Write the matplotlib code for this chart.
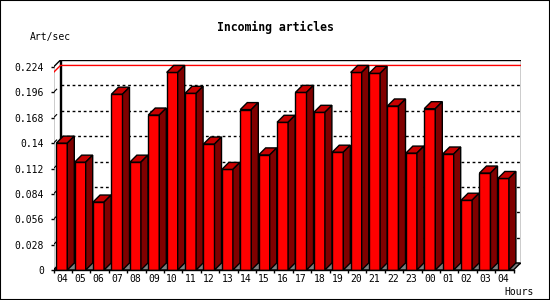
import matplotlib
matplotlib.use("Agg")
import matplotlib.pyplot as plt
from matplotlib.patches import Polygon, Rectangle

hours = ["04", "05", "06", "07", "08", "09", "10", "11", "12", "13", "14", "15", "16",
         "17", "18", "19", "20", "21", "22", "23", "00", "01", "02", "03", "04"]
rate = [0.140, 0.119, 0.075, 0.194, 0.119, 0.171, 0.218, 0.195, 0.139, 0.111, 0.177, 0.127,
        0.163, 0.196, 0.174, 0.130, 0.218, 0.217, 0.181, 0.129, 0.178, 0.128, 0.077, 0.107, 0.101]
yticks = [0, 0.028, 0.056, 0.084, 0.112, 0.14, 0.168, 0.196, 0.224]
ytick_labels = ["0", "0.028", "0.056", "0.084", "0.112", "0.14", "0.168", "0.196", "0.224"]

plt.rcParams['font.family'] = ['DejaVu Sans Mono']

W, H = 550, 300
slot_px = 18.4
ypx = 906.25            # pixels per unit of art/sec
n = len(rate)
ymax = yticks[-1]
dx = 7 / slot_px        # 3d depth in data units
dy = 7 / ypx
off, bw = 0.15, 0.6

fig = plt.figure(figsize=(W / 100, H / 100), dpi=100)
fig.patch.set_facecolor("white")
xl = n + dx
yl = ymax + dy
ax = fig.add_axes([53.5 / W, 30 / H, xl * slot_px / W, yl * ypx / H])
ax.set_xlim(0, xl)
ax.set_ylim(0, yl)
for s in ax.spines.values():
    s.set_visible(False)
ax.patch.set_visible(False)

# walls and floor
ax.add_patch(Rectangle((dx, dy), n, ymax, facecolor="white", edgecolor="black", lw=1, zorder=1))
ax.add_patch(Polygon([(0, 0), (dx, dy), (dx, ymax + dy), (0, ymax)], closed=True,
                     facecolor="white", edgecolor="black", lw=1, zorder=1))
ax.add_patch(Polygon([(0, 0), (n, 0), (n + dx, dy), (dx, dy)], closed=True,
                     facecolor="#808080", edgecolor="black", lw=1, zorder=1.5))

for v in yticks[1:-1]:
    ax.plot([dx, n + dx], [v + dy, v + dy], color="black", lw=1, ls=(0, (2, 2)), zorder=2)
    ax.plot([0.1 * dx, 0.45 * dx], [v + 0.1 * dy, v + 0.45 * dy], color="black", lw=0.8, zorder=2)

vmax = max(rate)
ax.plot([0, dx, n + dx], [vmax, vmax + dy, vmax + dy], color="red", lw=1, zorder=2.5)

# bars
x_front = [i + off for i in range(n)]
ax.bar(x_front, rate, width=bw, align="edge", color="#ff0000", edgecolor="black", lw=1, zorder=3)
for x0, h in zip(x_front, rate):
    top = [(x0, h), (x0 + bw, h), (x0 + bw + dx, h + dy), (x0 + dx, h + dy)]
    side = [(x0 + bw, 0), (x0 + bw + dx, dy), (x0 + bw + dx, h + dy), (x0 + bw, h)]
    ax.add_patch(Polygon(top, closed=True, facecolor="#c80000", edgecolor="black", lw=1, zorder=3))
    ax.add_patch(Polygon(side, closed=True, facecolor="#800000", edgecolor="black", lw=1, zorder=3))

ax.plot([0, n], [0, 0], color="black", lw=1, zorder=4, clip_on=False)

# ticks
ax.set_yticks(yticks)
ax.set_yticklabels(ytick_labels)
ax.tick_params(axis="y", direction="out", length=2, width=1, pad=5, labelsize=7)
ax.set_xticks(range(n + 1))
ax.set_xticklabels([])
ax.set_xticks([x + bw / 2 for x in x_front], minor=True)
ax.set_xticklabels(hours, minor=True)
ax.tick_params(axis="x", which="major", direction="out", length=2.5, width=1)
ax.tick_params(axis="x", which="minor", length=0, pad=3, labelsize=7)

fig.text(275 / W, 1 - 27 / H, "Incoming articles", ha="center", va="center",
         fontsize=8.3, fontweight="bold")
fig.text(30 / W, 1 - 37 / H, "Art/sec", ha="left", va="center", fontsize=7)
fig.text(534 / W, 1 - 292 / H, "Hours", ha="right", va="center", fontsize=7)

fig.patches.append(Rectangle((0, 0), 1, 1, transform=fig.transFigure, fill=False,
                             edgecolor="black", lw=1.5, zorder=10))

fig.savefig("out.png", dpi=100)
